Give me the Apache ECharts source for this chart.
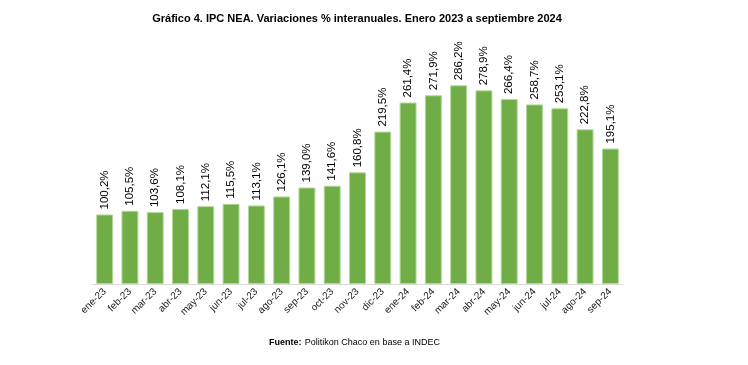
<!DOCTYPE html>
<html><head><meta charset="utf-8">
<script src="https://cdn.jsdelivr.net/npm/echarts@6/dist/echarts.min.js"></script>
<style>html,body{margin:0;padding:0;background:#fff}#c{width:748px;height:365px}</style>
</head><body><div id="c"></div>
<script>
const categories = ["ene-23","feb-23","mar-23","abr-23","may-23","jun-23","jul-23","ago-23","sep-23","oct-23","nov-23","dic-23","ene-24","feb-24","mar-24","abr-24","may-24","jun-24","jul-24","ago-24","sep-24"];
const values = [100.2,105.5,103.6,108.1,112.1,115.5,113.1,126.1,139.0,141.6,160.8,219.5,261.4,271.9,286.2,278.9,266.4,258.7,253.1,222.8,195.1];
const titleText = "Gráfico 4. IPC NEA. Variaciones % interanuales. Enero 2023 a septiembre 2024";
const chart = echarts.init(document.getElementById('c'));
chart.setOption({
  animation:false,
  title:{text:titleText,left:352,textAlign:'center',top:8,textStyle:{fontFamily:'Liberation Sans',fontSize:11,fontWeight:'bold',color:'#000'}},
  graphic:[{type:'text',left:269,top:337,style:{rich:{b:{fontWeight:'bold',fontFamily:'Liberation Sans',fontSize:9,fill:'#000'},n:{fontFamily:'Liberation Sans',fontSize:9,fill:'#000'}},text:'{b|Fuente:} {n|Politikon Chaco en base a INDEC}'}}],
  grid:{left:92,right:125,top:41,bottom:81},
  xAxis:{type:'category',data:categories,axisLine:{lineStyle:{color:'#d9d9d9'}},axisTick:{length:4,lineStyle:{color:'#d9d9d9'}},
    axisLabel:{rotate:45,fontSize:10,color:'#222',fontFamily:'Liberation Sans',margin:6}},
  yAxis:{type:'value',min:0,max:350,show:false,splitLine:{show:false}},
  series:[{type:'bar',data:values,barCategoryGap:'33%',
    itemStyle:{color:'#70AD47',borderColor:'#b4d89a',borderWidth:1},
    label:{show:true,position:'top',rotate:90,align:'left',verticalAlign:'middle',distance:5,fontSize:11.5,color:'#000',fontFamily:'Liberation Sans',
      formatter:p=>p.value.toFixed(1).replace('.',',')+'%'}}]
});
</script></body></html>
